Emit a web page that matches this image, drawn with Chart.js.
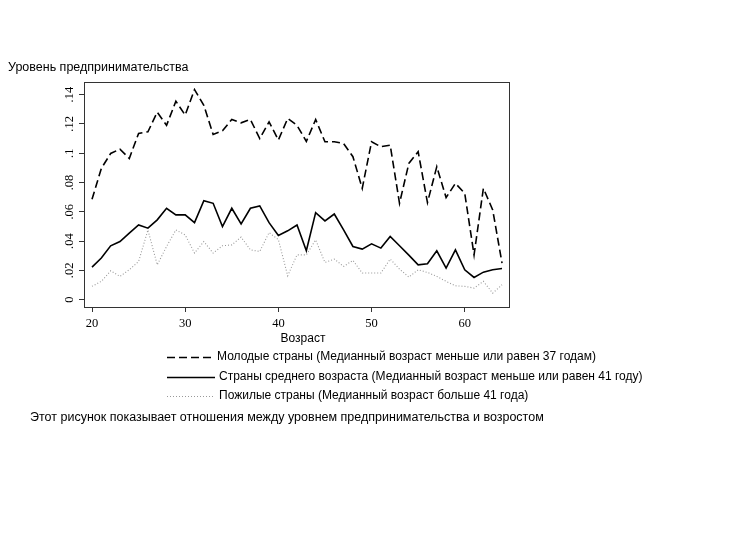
<!DOCTYPE html>
<html>
<head>
<meta charset="utf-8">
<script src="https://cdn.jsdelivr.net/npm/chart.js@4"></script>
<style>
  body{margin:0;background:#fff;}
  #wrap{width:730px;height:533px;}
</style>
</head>
<body>
<div id="wrap"><canvas id="c" width="730" height="533"></canvas></div>
<script>
const ages = [20,21,22,23,24,25,26,27,28,29,30,31,32,33,34,35,36,37,38,39,40,41,42,43,44,45,46,47,48,49,50,51,52,53,54,55,56,57,58,59,60,61,62,63,64];
const young = [0.0685,0.0896,0.0998,0.1028,0.0964,0.1135,0.1146,0.128,0.119,0.1355,0.126,0.1434,0.1327,0.1128,0.1153,0.123,0.1207,0.123,0.110,0.1214,0.109,
  0.1237,0.119,0.108,0.123,0.1078,0.1078,0.1066,0.0976,0.076,0.1078,0.1044,0.1055,0.0658,0.093,0.101,0.0663,0.0908,0.0697,0.0794,0.0726,0.0306,0.076,0.0613,0.025];
const middle = [0.0222,0.0284,0.0368,0.0397,0.0454,0.051,0.0488,0.0545,0.0624,0.0579,0.0579,0.0526,0.0676,0.0658,0.0499,0.0624,0.0517,0.0624,0.064,0.0526,0.0438,
  0.047,0.051,0.0334,0.0594,0.0538,0.0585,0.0477,0.0363,0.0345,0.0381,0.0352,0.0431,0.0368,0.0304,0.0238,0.0245,0.0334,0.0216,0.034,0.0204,0.0152,0.0188,0.0204,0.0213];
const old = [0.0091,0.0125,0.0197,0.0159,0.0204,0.0261,0.0476,0.0238,0.0363,0.0476,0.0442,0.0318,0.0397,0.0318,0.0368,0.0374,0.0427,0.034,0.0329,0.0458,0.041,
  0.0163,0.0306,0.0306,0.0408,0.0254,0.0277,0.0227,0.0268,0.0182,0.0182,0.0182,0.0277,0.0209,0.0154,0.0204,0.0186,0.0159,0.0125,0.0095,0.0091,0.0079,0.0125,0.0045,0.0102];
const xTicks = [20,30,40,50,60];
const yTicks = [0,0.02,0.04,0.06,0.08,0.1,0.12,0.14];
const yTickLabels = ['0','.02','.04','.06','.08','.1','.12','.14'];
const seriesLabels = [
  'Молодые страны (Медианный возраст меньше или равен 37 годам)',
  'Страны среднего возраста (Медианный возраст меньше или равен 41 году)',
  'Пожилые страны (Медианный возраст больше 41 года)'
];
const yTitle = 'Уровень предпринимательства';
const xTitle = 'Возраст';
const caption = 'Этот рисунок показывает отношения между уровнем предпринимательства и возростом';

const pts = arr => ages.map((a,i)=>({x:a, y:arr[i]}));
const sans = '"Liberation Sans", Arial, sans-serif';
const serif = '"Liberation Serif", "Times New Roman", serif';

const styles = [
  {color:'#000', width:1.6, dash:[8,4]},
  {color:'#000', width:1.6, dash:[]},
  {color:'#999', width:1.1, dash:[1,2]}
];

const extras = {
  id:'extras',
  afterDraw(chart){
    const ctx = chart.ctx, a = chart.chartArea, ys = chart.scales.y;
    ctx.save();
    // frame
    ctx.strokeStyle = '#333'; ctx.lineWidth = 1;
    ctx.strokeRect(a.left+0.5, a.top+0.5, a.right-a.left, a.bottom-a.top);
    // y tick labels (rotated)
    ctx.fillStyle = '#000';
    ctx.font = '12.5px ' + serif;
    ctx.textAlign = 'center'; ctx.textBaseline = 'middle';
    yTicks.forEach((v,i)=>{
      const py = ys.getPixelForValue(v);
      ctx.save(); ctx.translate(70, py); ctx.rotate(-Math.PI/2);
      ctx.fillText(yTickLabels[i], 0, 0); ctx.restore();
    });
    // titles
    ctx.font = '12.5px ' + sans;
    ctx.textAlign = 'left';
    ctx.fillText(yTitle, 8, 68);
    ctx.font = '12px ' + sans;
    ctx.textAlign = 'center';
    ctx.fillText(xTitle, 303, 339);
    // legend
    ctx.textAlign = 'left';
    const rows = [357, 377, 396];
    rows.forEach((ry,i)=>{
      const s = styles[i];
      ctx.save();
      ctx.strokeStyle = s.color; ctx.lineWidth = s.width; ctx.setLineDash(s.dash);
      ctx.beginPath(); ctx.moveTo(167, ry+0.5); ctx.lineTo(215, ry+0.5); ctx.stroke();
      ctx.restore();
      ctx.fillText(seriesLabels[i], i===0 ? 217 : 219, ry);
    });
    ctx.font = '12.5px ' + sans;
    ctx.fillText(caption, 30, 418);
    ctx.restore();
  }
};

new Chart(document.getElementById('c'), {
  type:'line',
  data:{
    datasets: seriesLabels.map((lab,i)=>({
      label: lab,
      data: pts([young,middle,old][i]),
      borderColor: styles[i].color,
      borderWidth: styles[i].width,
      borderDash: styles[i].dash,
      pointRadius: 0,
      tension: 0,
      fill: false
    }))
  },
  options:{
    responsive:false,
    animation:false,
    layout:{padding:{left:0, right:221, top:82, bottom:0}},
    plugins:{legend:{display:false}, tooltip:{enabled:false}},
    scales:{
      x:{
        type:'linear', min:19.14, max:64.75,
        afterBuildTicks: s => { s.ticks = xTicks.map(v=>({value:v})); },
        afterFit: s => { s.height = 226; },
        grid:{display:true, drawOnChartArea:false, drawTicks:true, tickLength:5, color:'#333'},
        border:{display:false},
        ticks:{color:'#000', font:{family:serif, size:12.5}, padding:4, maxRotation:0, callback:v=>String(v)}
      },
      y:{
        min:-0.005, max:0.1486,
        afterBuildTicks: s => { s.ticks = yTicks.map(v=>({value:v})); },
        afterFit: s => { s.width = 84; },
        grid:{display:true, drawOnChartArea:false, drawTicks:true, tickLength:5, color:'#333'},
        border:{display:false},
        ticks:{display:false}
      }
    }
  },
  plugins:[extras]
});
</script>
</body>
</html>
